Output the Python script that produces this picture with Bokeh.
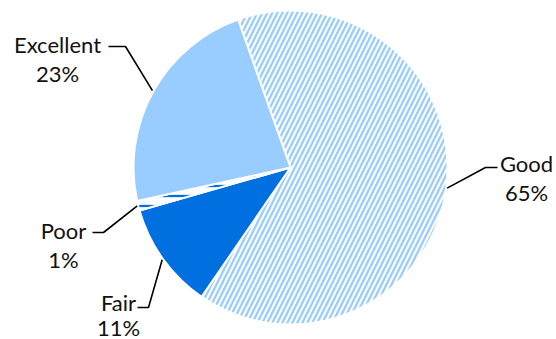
import numpy as np
from bokeh.plotting import figure
from bokeh.models import ColumnDataSource, Range1d
from bokeh.embed import file_html
from bokeh.resources import INLINE
from bokeh.core.properties import value

# ---- data ----
categories = ["Good", "Fair", "Poor", "Excellent"]
shares = [65, 11, 1, 23]
pct_labels = ["65%", "11%", "1%", "23%"]

# ---- layout / style ----
W, H = 556, 339
CX, CY, R = 290, 167, 157          # pixel coords, y downward
START_DEG = -19.5                  # clockwise from 12 o'clock
fill_colors = ["#ffffff", "#0070e0", "#ffffff", "#99ccff"]
hatch_patterns = ["/", " ", "-", " "]
hatch_colors = ["#99ccff", "#0070e0", "#0070e0", "#99ccff"]
# label layout: text centre x, name baseline y, pct baseline y, elbow x, elbow y, horizontal end x
label_layout = {
    "Excellent": (57, 44, 73, 125, 46, 108),
    "Good": (526, 163, 192, 485, 167, 497),
    "Poor": (63, 230, 259, 103, 232, 92),
    "Fair": (118, 302, 327, 148, 307, 137),
}

def yd(y):
    return H - y

vals = np.array(shares, dtype=float)
frac = vals / vals.sum()
cum = np.concatenate([[0], np.cumsum(frac)]) * 360.0 + START_DEG
theta_s = cum[:-1]
theta_e = cum[1:]
theta_m = (theta_s + theta_e) / 2

src = ColumnDataSource(dict(
    cat=categories,
    start=np.pi / 2 - np.radians(theta_s),
    end=np.pi / 2 - np.radians(theta_e),
    fill=fill_colors,
    hatch=hatch_patterns,
    hcol=hatch_colors,
))

p = figure(width=W, height=H, x_range=Range1d(0, W), y_range=Range1d(0, H),
           output_backend="svg", toolbar_location=None, min_border=0,
           x_axis_location=None, y_axis_location=None, outline_line_color=None,
           background_fill_color="white", border_fill_color="white")
p.xgrid.visible = False
p.ygrid.visible = False

p.wedge(x=CX, y=yd(CY), radius=R, radius_units="screen",
        start_angle="start", end_angle="end", direction="clock",
        fill_color="fill", hatch_pattern="hatch", hatch_color="hcol",
        hatch_scale=10, hatch_weight=2.3,
        line_color="white", line_width=2, source=src)

# connectors and labels
lx, ly, tx, ny, py, names, pcts = [], [], [], [], [], [], []
for i, c in enumerate(categories):
    cx_t, nb, pb, ex, ey, hx = label_layout[c]
    th = np.radians(theta_m[i])
    sx = CX + np.sin(th) * (R + 1)
    sy = CY - np.cos(th) * (R + 1)
    lx.append([sx, ex, hx])
    ly.append([yd(sy), yd(ey), yd(ey)])
    tx.append(cx_t)
    ny.append(yd(nb))
    py.append(yd(pb))
    names.append(c)
    pcts.append(pct_labels[i])

p.multi_line(xs=lx, ys=ly, line_color="black", line_width=1.6)
lab = ColumnDataSource(dict(x=tx, ny=ny, py=py, name=names, pct=pcts))
for ycol, tcol in (("ny", "name"), ("py", "pct")):
    p.text(x="x", y=ycol, text=tcol, source=lab, text_align="center",
           text_baseline="alphabetic", text_font=value("Lato"),
           text_font_size="22px", text_color="#111111")

open("out.html", "w").write(file_html(p, INLINE))
